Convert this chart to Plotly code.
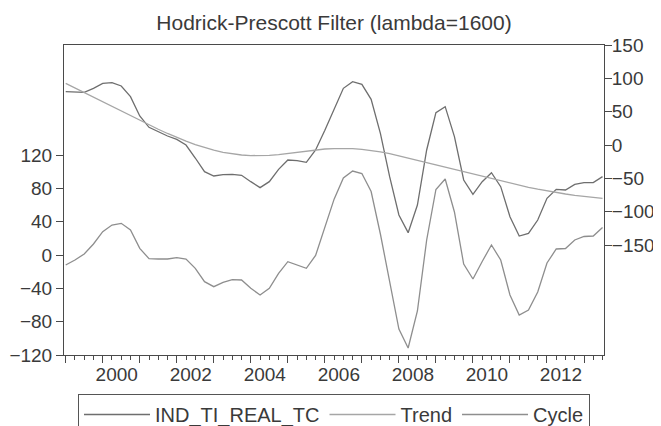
import plotly.graph_objects as go

# ---- data (quarterly, 1999Q1 - 2013Q3) ----
quarters = [f"{y}Q{q}" for y in range(1999, 2014) for q in range(1, 5)][:59]

ind_ti_real_tc = [80.0, 80.0, 79.0, 85.0, 92.5, 93.5, 88.5, 72.5, 43.5, 26.5,
                  20.0, 13.5, 8.5, 0.0, -19.5, -40.0, -46.5, -44.5, -44.0, -45.5,
                  -55.0, -64.0, -55.0, -36.5, -22.5, -23.5, -26.0, -7.5, 22.0, 54.0,
                  85.0, 95.0, 91.0, 68.5, 17.5, -47.5, -105.0, -131.5, -90.0, -7.5,
                  48.5, 57.5, 12.5, -52.5, -74.0, -55.0, -41.5, -62.5, -107.5, -136.5,
                  -132.5, -112.5, -80.0, -66.5, -67.5, -59.0, -56.5, -56.5, -47.5]

trend = [92.5, 85.5, 78.6, 71.6, 64.5, 57.6, 50.7, 43.8, 36.9, 30.2,
         23.6, 17.3, 11.3, 5.7, 0.6, -3.9, -7.8, -11.0, -13.4, -15.0,
         -15.9, -16.1, -15.5, -14.3, -12.6, -10.8, -9.0, -7.4, -6.0, -5.3,
         -5.0, -5.3, -6.5, -8.1, -10.4, -13.1, -16.2, -19.5, -23.0, -26.4,
         -29.9, -33.3, -36.8, -40.2, -43.7, -47.1, -50.6, -54.0, -57.3, -60.5,
         -63.5, -66.3, -69.0, -71.4, -73.5, -75.5, -77.1, -78.6, -80.0]

cycle = [-12.0, -6.0, 1.2, 13.2, 28.0, 36.0, 38.0, 30.0, 8.0, -4.4,
         -4.8, -4.8, -3.2, -4.8, -16.0, -32.0, -38.0, -32.8, -29.6, -30.0,
         -40.0, -48.0, -40.0, -22.0, -8.0, -12.0, -16.0, -0.6, 32.4, 67.0,
         92.4, 100.8, 97.8, 76.2, 25.2, -31.2, -88.8, -111.6, -67.2, 18.0,
         78.6, 91.2, 51.6, -10.8, -28.8, -7.8, 12.0, -6.0, -48.0, -72.0,
         -66.0, -44.4, -9.6, 7.2, 7.8, 18.0, 22.2, 22.8, 33.0]

years = list(range(1999, 2014))
year_labels = [str(y) if y % 2 == 0 else "" for y in years]
left_ticks = [-120, -80, -40, 0, 40, 80, 120]
right_ticks = [-150, -100, -50, 0, 50, 100, 150]

# numeric time axis: year + (quarter-1)/4
x = [int(q[:4]) + (int(q[-1]) - 1) / 4 for q in quarters]
minor_vals = [v for v in x if v not in years]

FONT = "Liberation Sans, Arial, sans-serif"
TXT = "#3a3a3a"
AX = "#4a4a4a"

# the page body has an 8px default margin, so the figure is sized to the
# remaining visible area
W, H = 653, 418
ML, MR, MT, MB = 56, 57, 37, 71
plot_w = W - ML - MR
plot_h = H - MT - MB

fig = go.Figure()
fig.add_trace(go.Scatter(x=x, y=ind_ti_real_tc, name="IND_TI_REAL_TC", mode="lines",
                         line=dict(color="#6e6e6e", width=1.3), yaxis="y2"))
fig.add_trace(go.Scatter(x=x, y=trend, name="Trend", mode="lines",
                         line=dict(color="#a6a6a6", width=1.3), yaxis="y2"))
fig.add_trace(go.Scatter(x=x, y=cycle, name="Cycle", mode="lines",
                         line=dict(color="#8e8e8e", width=1.3), yaxis="y"))

x_range = [1999 - 0.046, 2013.5 + 0.04]
px_per_year = plot_w / (x_range[1] - x_range[0])

fig.update_layout(
    width=W, height=H,
    margin=dict(l=ML, r=MR, t=MT, b=MB, autoexpand=False),
    paper_bgcolor="white", plot_bgcolor="white",
    font=dict(family=FONT, size=19, color=TXT),
    title=dict(text="Hodrick-Prescott Filter (lambda=1600)", x=0.5, xref="paper",
               xanchor="center", y=1 - 15 / H, yanchor="middle",
               font=dict(family=FONT, size=21, color=TXT)),
    showlegend=True,
    legend=dict(orientation="h", x=0.5, xanchor="center", y=-39 / plot_h,
                yanchor="top", bordercolor="#555555", borderwidth=1,
                font=dict(family=FONT, size=20, color=TXT), itemwidth=66,
                bgcolor="white"),
    xaxis=dict(range=x_range, tickmode="array", tickvals=years, ticktext=year_labels,
               ticks="outside", ticklen=7, tickwidth=1, tickcolor=AX,
               ticklabelshift=int(round(0.375 * px_per_year)),
               ticklabelstandoff=-5,
               minor=dict(tickmode="array", tickvals=minor_vals, ticks="outside",
                          ticklen=4, tickwidth=1, tickcolor=AX),
               showline=True, linecolor=AX, linewidth=1, mirror=True,
               showgrid=False, zeroline=False),
    yaxis=dict(range=[-120, 252], tickmode="array", tickvals=left_ticks,
               ticks="outside", ticklen=7, tickcolor=AX, showline=True,
               linecolor=AX, linewidth=1, showgrid=False, zeroline=False),
    yaxis2=dict(range=[-315, 150], overlaying="y", side="right", tickmode="array",
                tickvals=right_ticks, ticks="outside", ticklen=7, tickcolor=AX,
                ticklabelstandoff=-4,
                showline=True, linecolor=AX, linewidth=1, showgrid=False,
                zeroline=False),
)

fig.write_html("out.html")
